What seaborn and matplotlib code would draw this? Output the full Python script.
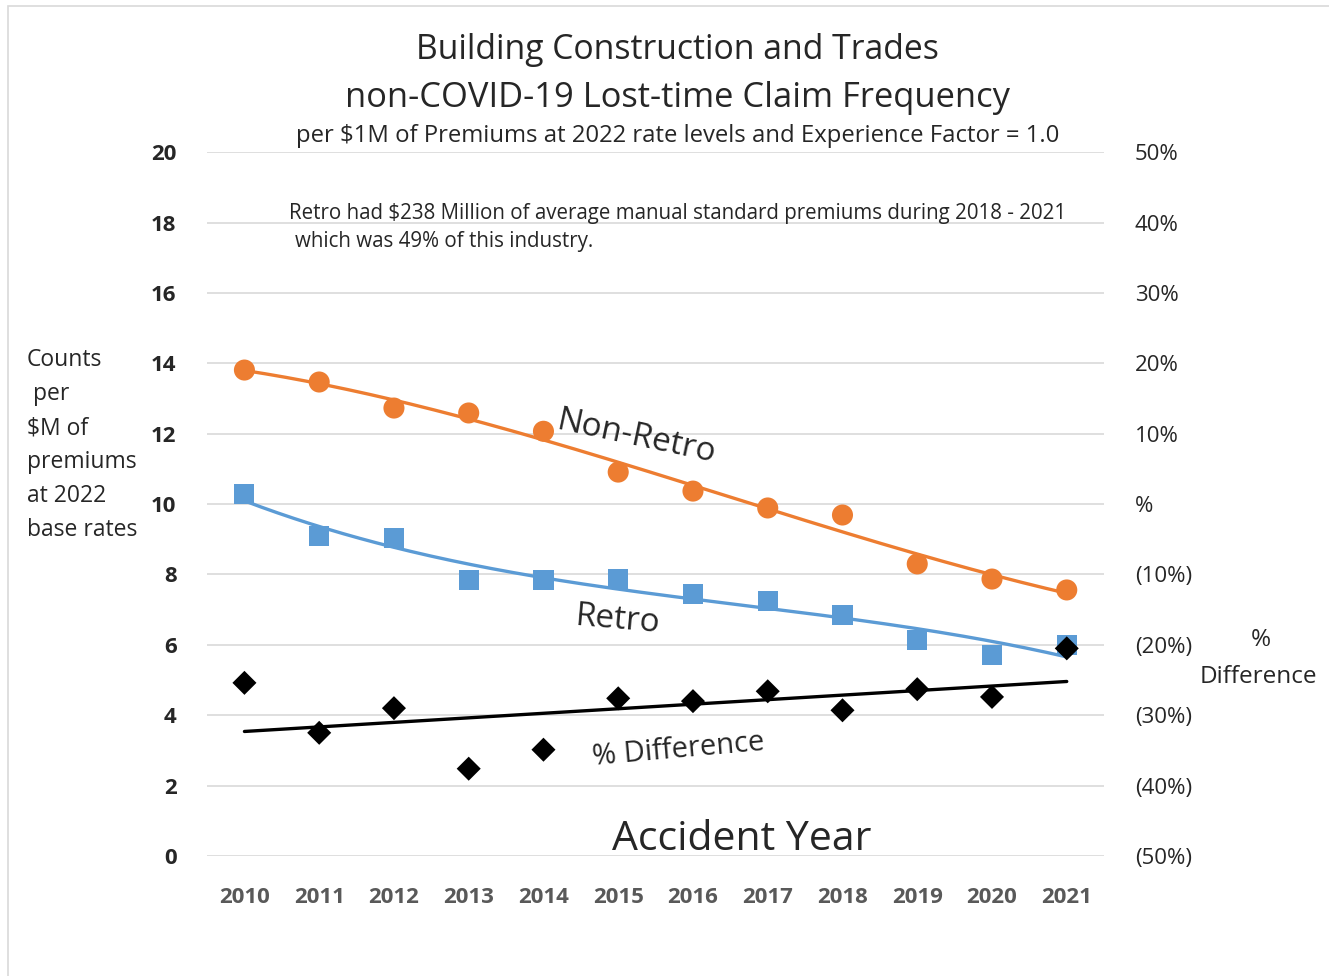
import numpy as np
import pandas as pd
import seaborn as sns
import matplotlib.pyplot as plt
from matplotlib.patches import Rectangle

sns.set_style("white")
plt.rcParams['font.family'] = ['Open Sans', 'DejaVu Sans']

# Data
years = list(range(2010, 2022))
non_retro = [13.81, 13.47, 12.73, 12.59, 12.07, 10.91, 10.37, 9.89, 9.69, 8.30, 7.87, 7.56]
retro = [10.28, 9.09, 9.03, 7.84, 7.84, 7.87, 7.44, 7.24, 6.85, 6.14, 5.71, 6.00]
pct_diff = [-25.4, -32.5, -29.0, -37.6, -34.9, -27.6, -28.0, -26.6, -29.3, -26.3, -27.4, -20.5]

left_ticks = list(range(0, 21, 2))
right_tick_labels = ['(50%)', '(40%)', '(30%)', '(20%)', '(10%)', '%', '10%', '20%', '30%', '40%', '50%']

ORANGE = '#ED7D31'
BLUE = '#5B9BD5'

df = pd.DataFrame({'year': years, 'non_retro': non_retro, 'retro': retro, 'pct_diff': pct_diff})

# Trend lines (Excel-style polynomial / linear)
xs = np.linspace(2010, 2021, 200)
nr_fit = np.polyval(np.polyfit(df['year'] - 2010, df['non_retro'], 3), xs - 2010)
r_fit = np.polyval(np.polyfit(df['year'] - 2010, df['retro'], 3), xs - 2010)
d_fit = np.polyval(np.polyfit(df['year'] - 2010, df['pct_diff'], 1), xs - 2010)

fig = plt.figure(figsize=(13.29, 9.76), dpi=100)
ax = fig.add_axes([0.1558, 0.123, 0.675, 0.721])
ax2 = ax.twinx()

sns.lineplot(x=xs, y=nr_fit, ax=ax, color=ORANGE, linewidth=2.4, zorder=3)
sns.lineplot(x=xs, y=r_fit, ax=ax, color=BLUE, linewidth=2.4, zorder=3)
sns.scatterplot(data=df, x='year', y='non_retro', ax=ax, color=ORANGE, marker='o', s=230,
                edgecolor='none', zorder=4)
sns.scatterplot(data=df, x='year', y='retro', ax=ax, color=BLUE, marker='s', s=210,
                edgecolor='none', zorder=4)

sns.lineplot(x=xs, y=d_fit, ax=ax2, color='black', linewidth=2.4, zorder=3)
sns.scatterplot(data=df, x='year', y='pct_diff', ax=ax2, color='black', marker='D', s=150,
                edgecolor='none', zorder=4)

ax.set_xlim(2009.5, 2021.5)
ax.set_ylim(0, 20)
ax2.set_ylim(-50, 50)
ax.set_yticks(left_ticks)
ax.set_yticklabels([str(t) for t in left_ticks], fontsize=16, fontweight='bold')
ax2.set_yticks(np.arange(-50, 51, 10))
ax2.set_yticklabels(right_tick_labels, fontsize=16)
ax.set_xticks(years)
ax.set_xticklabels([str(y) for y in years], fontsize=16, fontweight='bold', color='#595959')
ax.tick_params(axis='x', length=0, pad=22)
ax.tick_params(axis='y', length=0, pad=22)
ax2.tick_params(axis='y', length=0, pad=22)
ax.set_xlabel('')
ax.set_ylabel('')
ax2.set_ylabel('')
ax.grid(axis='y', color='#D9D9D9', linewidth=1.2)
for a in (ax, ax2):
    for sp in a.spines.values():
        sp.set_visible(False)
ax.set_zorder(1)
ax2.set_zorder(2)
ax.patch.set_visible(False)

# Series labels
ax.text(2015.25, 11.9, 'Non-Retro', fontsize=24, rotation=-12, ha='center', va='center')
ax.text(2015.0, 6.7, 'Retro', fontsize=24, rotation=-5, ha='center', va='center')
ax.text(2015.8, 3.0, '% Difference', fontsize=21, rotation=5, ha='center', va='center')
ax.text(2016.65, 0.45, 'Accident Year', fontsize=29.5, ha='center', va='center')

ax.text(2010.6, 18.25, 'Retro had $238 Million of average manual standard premiums during 2018 - 2021',
        fontsize=14.8, ha='left', va='center')
ax.text(2010.67, 17.45, 'which was 49% of this industry.', fontsize=14.8, ha='left', va='center')

# Titles
fig.text(0.51, 0.949, 'Building Construction and Trades', fontsize=24.3, ha='center', va='center')
fig.text(0.51, 0.9, 'non-COVID-19 Lost-time Claim Frequency', fontsize=24.8, ha='center', va='center')
fig.text(0.51, 0.861, 'per $1M of Premiums at 2022 rate levels and Experience Factor = 1.0',
         fontsize=17.2, ha='center', va='center')

# Axis titles
fig.text(0.02, 0.544, 'Counts\n per\n$M of\npremiums\nat 2022\nbase rates', fontsize=16.5,
         ha='left', va='center', linespacing=1.56)
fig.text(0.949, 0.344, '%', fontsize=17.5, ha='center', va='center')
fig.text(0.903, 0.306, 'Difference', fontsize=17.5, ha='left', va='center')

fig.patches.append(Rectangle((0.006, -0.01), 1.2, 1.004, transform=fig.transFigure,
                             fill=False, edgecolor='#D9D9D9', linewidth=1.2))

fig.savefig('out.png', dpi=100)
